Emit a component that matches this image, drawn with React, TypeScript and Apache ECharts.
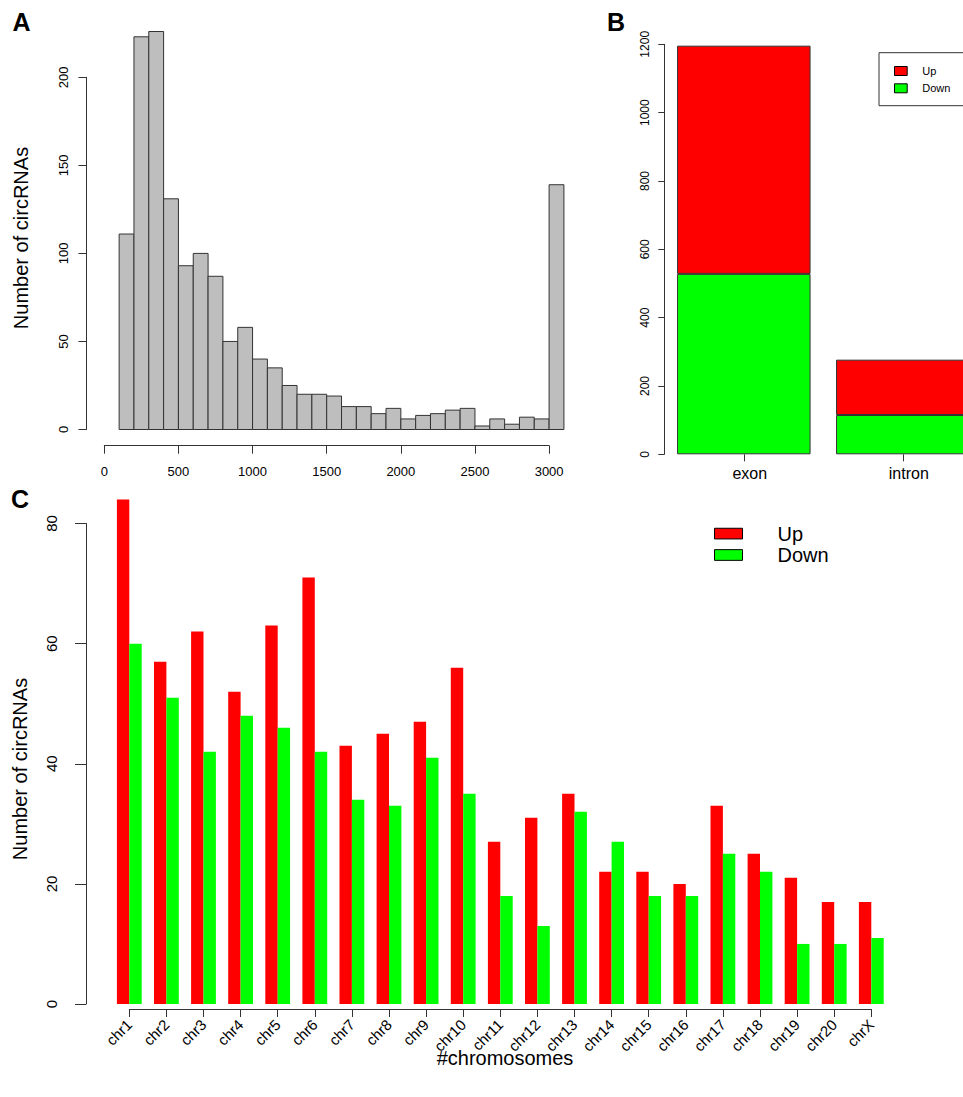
import React, { useEffect, useRef } from "react";
import * as echarts from "echarts";

// ---------- Data ----------
// Panel A: histogram of circRNA lengths (bin start / bin end / count)
const histBinStart = [100, 200, 300, 400, 500, 600, 700, 800, 900, 1000, 1100, 1200, 1300, 1400, 1500, 1600, 1700, 1800, 1900, 2000, 2100, 2200, 2300, 2400, 2500, 2600, 2700, 2800, 2900, 3000];
const histBinEnd = [200, 300, 400, 500, 600, 700, 800, 900, 1000, 1100, 1200, 1300, 1400, 1500, 1600, 1700, 1800, 1900, 2000, 2100, 2200, 2300, 2400, 2500, 2600, 2700, 2800, 2900, 3000, 3100];
const histCounts = [111, 223, 226, 131, 93, 100, 87, 50, 58, 40, 35, 25, 20, 20, 19, 13, 13, 9, 12, 6, 8, 9, 11, 12, 2, 6, 3, 7, 6, 139];

// Panel B: genomic region (stacked)
const regionCategories = ["exon", "intron"];
const regionUp = [668, 162];
const regionDown = [528, 115];

// Panel C: chromosomes
const chromosomes = ["chr1", "chr2", "chr3", "chr4", "chr5", "chr6", "chr7", "chr8", "chr9", "chr10", "chr11", "chr12", "chr13", "chr14", "chr15", "chr16", "chr17", "chr18", "chr19", "chr20", "chrX"];
const chromUp = [84, 57, 62, 52, 63, 71, 43, 45, 47, 56, 27, 31, 35, 22, 22, 20, 33, 25, 21, 17, 17];
const chromDown = [60, 51, 42, 48, 46, 42, 34, 33, 41, 35, 18, 13, 32, 27, 18, 18, 25, 22, 10, 10, 11];

const seriesNames = ["Up", "Down"];

const FONT = "'Liberation Sans', Arial, Helvetica, sans-serif";
const AXIS_COLOR = "#333";
const RED = "#FF0000";
const GREEN = "#00FF00";

const plain = (v: number) => String(v);

export default function App() {
  const ref = useRef<HTMLDivElement>(null);

  useEffect(() => {
    if (!ref.current) return;
    const chart = echarts.init(ref.current, undefined, { renderer: "svg" });

    const histData = histCounts.map((c, i) => [histBinStart[i], histBinEnd[i], c]);

    const axisLine = { show: true, onZero: false, lineStyle: { color: AXIS_COLOR, width: 1 } };
    const tick = (len: number) => ({ show: true, length: len, lineStyle: { color: AXIS_COLOR, width: 1 } });

    const option: any = {
      animation: false,
      backgroundColor: "#fff",
      textStyle: { fontFamily: FONT },
      grid: [
        { left: 104.3, top: 77.3, width: 444.8, height: 352.2, outerBoundsMode: "none", containLabel: false },
        { left: 664.3, top: 44.3, width: 318, height: 410, outerBoundsMode: "none", containLabel: false },
        { left: 129.3, top: 523.5, width: 742, height: 480.5, outerBoundsMode: "none", containLabel: false },
      ],
      xAxis: [
        {
          gridIndex: 0,
          type: "value",
          min: 0,
          max: 3000,
          interval: 500,
          offset: 16.2,
          axisLine,
          axisTick: tick(8),
          splitLine: { show: false },
          axisLabel: { fontSize: 13, margin: 19.5, color: "#000", fontFamily: FONT, formatter: plain },
        },
        {
          gridIndex: 1,
          type: "category",
          data: regionCategories,
          axisLine: { show: false, onZero: false },
          axisTick: { ...tick(7), alignWithLabel: true },
          axisLabel: { fontSize: 16, margin: 11, color: "#000", fontFamily: FONT, padding: [0, 0, 0, 12] },
        },
        {
          gridIndex: 2,
          type: "category",
          data: chromosomes,
          boundaryGap: false,
          offset: 5,
          axisLine,
          axisTick: tick(8),
          axisLabel: { fontSize: 15, margin: 13, rotate: 45, interval: 0, color: "#000", fontFamily: FONT },
        },
      ],
      yAxis: [
        {
          gridIndex: 0,
          type: "value",
          min: 0,
          max: 200,
          interval: 50,
          offset: 17.8,
          axisLine,
          axisTick: tick(8),
          splitLine: { show: false },
          axisLabel: { fontSize: 13, margin: 17, rotate: 90, color: "#000", fontFamily: FONT, formatter: plain },
        },
        {
          gridIndex: 1,
          type: "value",
          min: 0,
          max: 1200,
          interval: 200,
          axisLine,
          axisTick: tick(6),
          splitLine: { show: false },
          axisLabel: { fontSize: 12, margin: 13.5, rotate: 90, color: "#000", fontFamily: FONT, formatter: plain },
        },
        {
          gridIndex: 2,
          type: "value",
          min: 0,
          max: 80,
          interval: 20,
          offset: 43.3,
          axisLine,
          axisTick: tick(11),
          splitLine: { show: false },
          axisLabel: { fontSize: 15, margin: 27, rotate: 90, color: "#000", fontFamily: FONT, formatter: plain },
        },
      ],
      legend: [
        {
          data: [
            { name: seriesNames[0], itemStyle: { color: RED, borderColor: "#000", borderWidth: 1 } },
            { name: seriesNames[1], itemStyle: { color: GREEN, borderColor: "#000", borderWidth: 1 } },
          ],
          orient: "vertical",
          left: 879,
          top: 52.7,
          padding: [12.3, 140, 11.4, 15],
          borderColor: AXIS_COLOR,
          borderWidth: 1,
          icon: "rect",
          itemWidth: 12.7,
          itemHeight: 9,
          itemGap: 5.3,
          selectedMode: false,
          textStyle: { fontSize: 11, lineHeight: 12, color: "#000", fontFamily: FONT, padding: [0, 0, 0, 10] },
        },
        {
          data: [
            { name: seriesNames[0], itemStyle: { color: RED, borderColor: "#000", borderWidth: 1 } },
            { name: seriesNames[1], itemStyle: { color: GREEN, borderColor: "#000", borderWidth: 1 } },
          ],
          orient: "vertical",
          left: 714,
          top: 522.9,
          padding: 0,
          icon: "rect",
          itemWidth: 28,
          itemHeight: 10.7,
          itemGap: 0,
          selectedMode: false,
          textStyle: { fontSize: 20, lineHeight: 21.4, color: "#000", fontFamily: FONT, padding: [0, 0, 0, 30] },
        },
      ],
      series: [
        {
          type: "custom",
          name: "histogram",
          xAxisIndex: 0,
          yAxisIndex: 0,
          data: histData,
          encode: { x: [0, 1], y: 2 },
          clip: false,
          renderItem: (params: any, api: any) => {
            const p0 = api.coord([api.value(0), api.value(2)]);
            const p1 = api.coord([api.value(1), 0]);
            return {
              type: "rect",
              shape: { x: p0[0], y: p0[1], width: p1[0] - p0[0], height: p1[1] - p0[1] },
              style: { fill: "#BEBEBE", stroke: AXIS_COLOR, lineWidth: 1 },
            };
          },
        },
        {
          type: "bar",
          name: seriesNames[1],
          xAxisIndex: 1,
          yAxisIndex: 1,
          stack: "region",
          barWidth: 133.5,
          clip: false,
          data: regionDown,
          itemStyle: { color: GREEN, borderColor: AXIS_COLOR, borderWidth: 1 },
        },
        {
          type: "bar",
          name: seriesNames[0],
          xAxisIndex: 1,
          yAxisIndex: 1,
          stack: "region",
          barWidth: 133.5,
          clip: false,
          data: regionUp,
          itemStyle: { color: RED, borderColor: AXIS_COLOR, borderWidth: 1 },
        },
        {
          type: "bar",
          name: seriesNames[0],
          xAxisIndex: 2,
          yAxisIndex: 2,
          barWidth: 12.4,
          barGap: "0%",
          clip: false,
          data: chromUp,
          itemStyle: { color: RED },
        },
        {
          type: "bar",
          name: seriesNames[1],
          xAxisIndex: 2,
          yAxisIndex: 2,
          barWidth: 12.4,
          barGap: "0%",
          clip: false,
          data: chromDown,
          itemStyle: { color: GREEN },
        },
      ],
      graphic: [
        { type: "text", x: 21.6, y: 21.5, style: { text: "A", font: `bold 25px ${FONT}`, fill: "#000", align: "center", verticalAlign: "middle" } },
        { type: "text", x: 616, y: 22, style: { text: "B", font: `bold 25px ${FONT}`, fill: "#000", align: "center", verticalAlign: "middle" } },
        { type: "text", x: 20, y: 499, style: { text: "C", font: `bold 25px ${FONT}`, fill: "#000", align: "center", verticalAlign: "middle" } },
        { type: "text", x: 21, y: 238, rotation: Math.PI / 2, style: { text: "Number of circRNAs", font: `20px ${FONT}`, fill: "#000", align: "center", verticalAlign: "middle" } },
        { type: "text", x: 19.5, y: 769, rotation: Math.PI / 2, style: { text: "Number of circRNAs", font: `20px ${FONT}`, fill: "#000", align: "center", verticalAlign: "middle" } },
        { type: "text", x: 505, y: 1058, style: { text: "#chromosomes", font: `20px ${FONT}`, fill: "#000", align: "center", verticalAlign: "middle" } },
      ],
    };

    chart.setOption(option);
    return () => chart.dispose();
  }, []);

  return (
    <div
      ref={ref}
      style={{ position: "absolute", left: 0, top: 0, width: 963, height: 1097, background: "#fff" }}
    />
  );
}
